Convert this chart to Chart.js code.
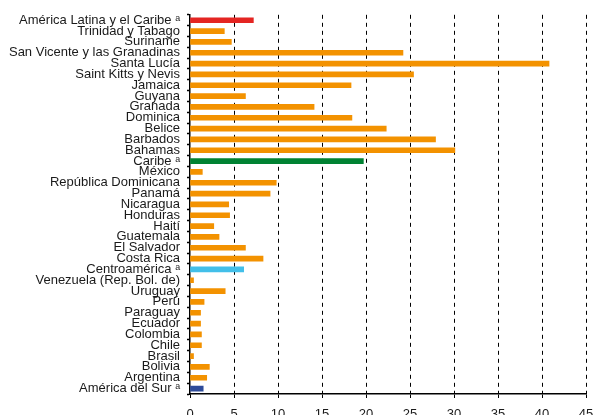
<!DOCTYPE html>
<html>
<head>
<meta charset="utf-8">
<script src="https://cdn.jsdelivr.net/npm/chart.js@4/dist/chart.umd.min.js"></script>
<style>
    html, body { margin: 0; padding: 0; background: #fff; }
    #wrap { width: 595px; height: 415px; }
</style>
</head>
<body>
<div id="wrap"><canvas id="barChart" width="595" height="415"></canvas></div>
<script>
// Countries and regional aggregates, top to bottom
const countries = [
    'América Latina y el Caribe ᵃ',
    'Trinidad y Tabago',
    'Suriname',
    'San Vicente y las Granadinas',
    'Santa Lucía',
    'Saint Kitts y Nevis',
    'Jamaica',
    'Guyana',
    'Granada',
    'Dominica',
    'Belice',
    'Barbados',
    'Bahamas',
    'Caribe ᵃ',
    'México',
    'República Dominicana',
    'Panamá',
    'Nicaragua',
    'Honduras',
    'Haití',
    'Guatemala',
    'El Salvador',
    'Costa Rica',
    'Centroamérica ᵃ',
    'Venezuela (Rep. Bol. de)',
    'Uruguay',
    'Perú',
    'Paraguay',
    'Ecuador',
    'Colombia',
    'Chile',
    'Brasil',
    'Bolivia',
    'Argentina',
    'América del Sur ᵃ'
];

// Values (percent)
const values = [
    7.2, 3.9, 4.7, 24.2, 40.8, 25.4, 18.3, 6.3, 14.1, 18.4, 22.3, 27.9, 30.1,
    19.7, 1.4, 9.8, 9.1, 4.4, 4.5, 2.7, 3.3, 6.3, 8.3,
    6.1, 0.4, 4.0, 1.6, 1.2, 1.2, 1.3, 1.3, 0.4, 2.2, 1.9, 1.5
];

// X axis ticks
const xTicks = [0, 5, 10, 15, 20, 25, 30, 35, 40, 45];

// Regional totals get their own colour, everything else is orange
const regionColors = {
    'América Latina y el Caribe ᵃ': '#E42522',
    'Caribe ᵃ': '#008232',
    'Centroamérica ᵃ': '#42BFE9',
    'América del Sur ᵃ': '#2D4A99'
};
const barColors = countries.map(c => regionColors[c] || '#F39200');

const fontFamily = '"Liberation Sans", Arial, "DejaVu Sans", sans-serif';

const ctx = document.getElementById('barChart').getContext('2d');
const chart = new Chart(ctx, {
    type: 'bar',
    data: {
        labels: countries,
        datasets: [{
            data: values,
            backgroundColor: barColors,
            borderWidth: 0,
            barThickness: 5
        }]
    },
    options: {
        indexAxis: 'y',
        responsive: false,
        animation: false,
        layout: {
            padding: { top: 14, right: 9, left: 0, bottom: 0 }
        },
        plugins: {
            legend: { display: false },
            tooltip: { enabled: false }
        },
        scales: {
            x: {
                min: 0,
                max: 45,
                afterBuildTicks: (scale) => {
                    scale.ticks = xTicks.map(v => ({ value: v }));
                },
                afterFit: (scale) => {
                    // fixed height, and keep the end labels from squeezing the plot
                    scale.height = 21;
                    scale.paddingLeft = 0;
                    scale.paddingRight = 0;
                },
                grid: {
                    color: (c) => (c.tick && c.tick.value === 0) ? 'rgba(0,0,0,0)' : '#000',
                    lineWidth: 1,
                    drawTicks: true,
                    tickLength: 4,
                    tickColor: '#000',
                    tickWidth: 1
                },
                border: {
                    display: true,
                    color: '#000',
                    width: 1.5,
                    dash: [4, 4]
                },
                ticks: {
                    color: '#1a1a1a',
                    padding: 9,
                    maxRotation: 0,
                    font: { family: fontFamily, size: 13 }
                }
            },
            y: {
                afterFit: (scale) => { scale.width = 190; },
                grid: {
                    drawOnChartArea: false,
                    drawTicks: true,
                    tickLength: 3,
                    tickColor: '#000',
                    tickWidth: 1.5
                },
                border: {
                    display: true,
                    color: '#000',
                    width: 1.5
                },
                ticks: {
                    color: '#1a1a1a',
                    padding: 7,
                    autoSkip: false,
                    font: { family: fontFamily, size: 13 }
                }
            }
        }
    }
});
</script>
</body>
</html>
